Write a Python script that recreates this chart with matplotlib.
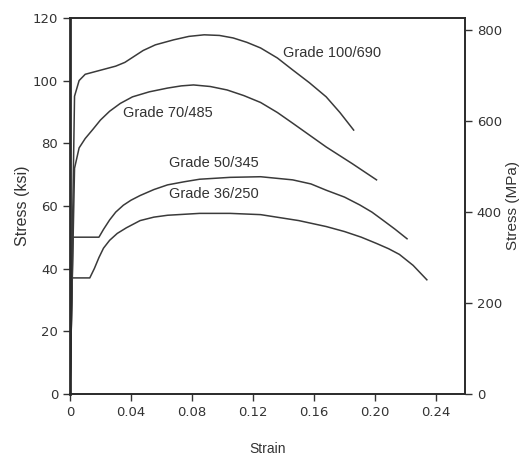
import matplotlib.pyplot as plt

plt.rcParams['font.family'] = ['DejaVu Sans']
LAB_FONT = ['Liberation Sans', 'DejaVu Sans']

# stress-strain curves (strain, ksi)
strain_100 = [0, 0.003, 0.006, 0.010, 0.020, 0.030, 0.036, 0.042, 0.048, 0.056, 0.068,
              0.078, 0.088, 0.098, 0.107, 0.116, 0.125, 0.136, 0.146, 0.157, 0.168, 0.177, 0.186]
ksi_100 = [0, 95, 100, 102, 103.3, 104.6, 105.8, 107.7, 109.6, 111.4, 113.0,
           114.1, 114.6, 114.4, 113.6, 112.2, 110.4, 107.2, 103.4, 99.3, 94.8, 89.8, 84.2]

strain_70 = [0, 0.003, 0.006, 0.010, 0.015, 0.020, 0.026, 0.033, 0.041, 0.052, 0.064,
             0.073, 0.081, 0.092, 0.103, 0.114, 0.125, 0.136, 0.146, 0.157, 0.168, 0.185, 0.201]
ksi_70 = [0, 72, 78.5, 81.5, 84.4, 87.4, 90.2, 92.7, 94.8, 96.4, 97.6,
          98.3, 98.6, 98.1, 97.0, 95.2, 93.0, 89.8, 86.4, 82.6, 78.8, 73.5, 68.3]

strain_50 = [0, 0.002, 0.019, 0.022, 0.026, 0.030, 0.035, 0.040, 0.046, 0.055, 0.064,
             0.075, 0.085, 0.105, 0.125, 0.146, 0.158, 0.168, 0.180, 0.190, 0.198, 0.205, 0.213, 0.221]
ksi_50 = [0, 50, 50, 52.5, 55.5, 58.0, 60.2, 61.8, 63.3, 65.2, 66.7,
          67.7, 68.5, 69.1, 69.3, 68.3, 67.0, 65.0, 62.8, 60.3, 58.0, 55.5, 52.6, 49.5]

strain_36 = [0, 0.0015, 0.013, 0.016, 0.019, 0.022, 0.026, 0.031, 0.037, 0.046, 0.055, 0.064,
             0.085, 0.105, 0.125, 0.150, 0.168, 0.180, 0.191, 0.201, 0.209, 0.216, 0.225, 0.234]
ksi_36 = [0, 37, 37, 40, 43.5, 46.5, 49, 51.2, 53.0, 55.3, 56.4, 57.0,
          57.6, 57.6, 57.2, 55.3, 53.4, 51.8, 50.0, 48.0, 46.3, 44.5, 41.0, 36.4]

labels = ['Grade 100/690', 'Grade 70/485', 'Grade 50/345', 'Grade 36/250']
label_pos = [(0.140, 108.8), (0.035, 89.7), (0.065, 73.7), (0.065, 63.8)]

xticks = [0, 0.04, 0.08, 0.12, 0.16, 0.20, 0.24]
xticklabels = ['0', '0.04', '0.08', '0.12', '0.16', '0.20', '0.24']
yticks = [0, 20, 40, 60, 80, 100, 120]
mpa_ticks = [0, 200, 400, 600, 800]
KSI_TO_MPA = 6.895

line_col = '#3a3a3a'
txt_col = '#333333'

fig = plt.figure(figsize=(5.26, 4.59), dpi=100)
ax = fig.add_axes([0.133, 0.142, 0.751, 0.819])

for s, k in [(strain_100, ksi_100), (strain_70, ksi_70), (strain_50, ksi_50), (strain_36, ksi_36)]:
    ax.plot(s, k, color=line_col, lw=1.1)

for lab, (x, y) in zip(labels, label_pos):
    ax.text(x, y, lab, fontsize=10.5, color=txt_col, va='center', family=LAB_FONT)

ax.set_xlim(0, 0.259)
ax.set_ylim(0, 120)
ax.set_xticks(xticks)
ax.set_xticklabels(xticklabels)
ax.set_yticks(yticks)
ax.tick_params(direction='out', length=5, width=1, labelsize=9.5, colors=txt_col)
ax.set_ylabel('Stress (ksi)', fontsize=11.5, color=txt_col, labelpad=2, family=LAB_FONT)
ax.set_xlabel('Strain', fontsize=10, color=txt_col, labelpad=17, family=LAB_FONT)
for sp in ax.spines.values():
    sp.set_linewidth(1.4)
    sp.set_color('#2a2a2a')
ax.spines['left'].set_linewidth(2)

ax2 = ax.twinx()
ax2.set_ylim(0, 120 * KSI_TO_MPA)
ax2.set_yticks(mpa_ticks)
ax2.tick_params(direction='out', length=5, width=1, labelsize=9.5, colors=txt_col)
ax2.set_ylabel('Stress (MPa)', fontsize=11, color=txt_col, labelpad=3, family=LAB_FONT)
for sp in ax2.spines.values():
    sp.set_visible(False)

fig.savefig('out.png', dpi=100)
